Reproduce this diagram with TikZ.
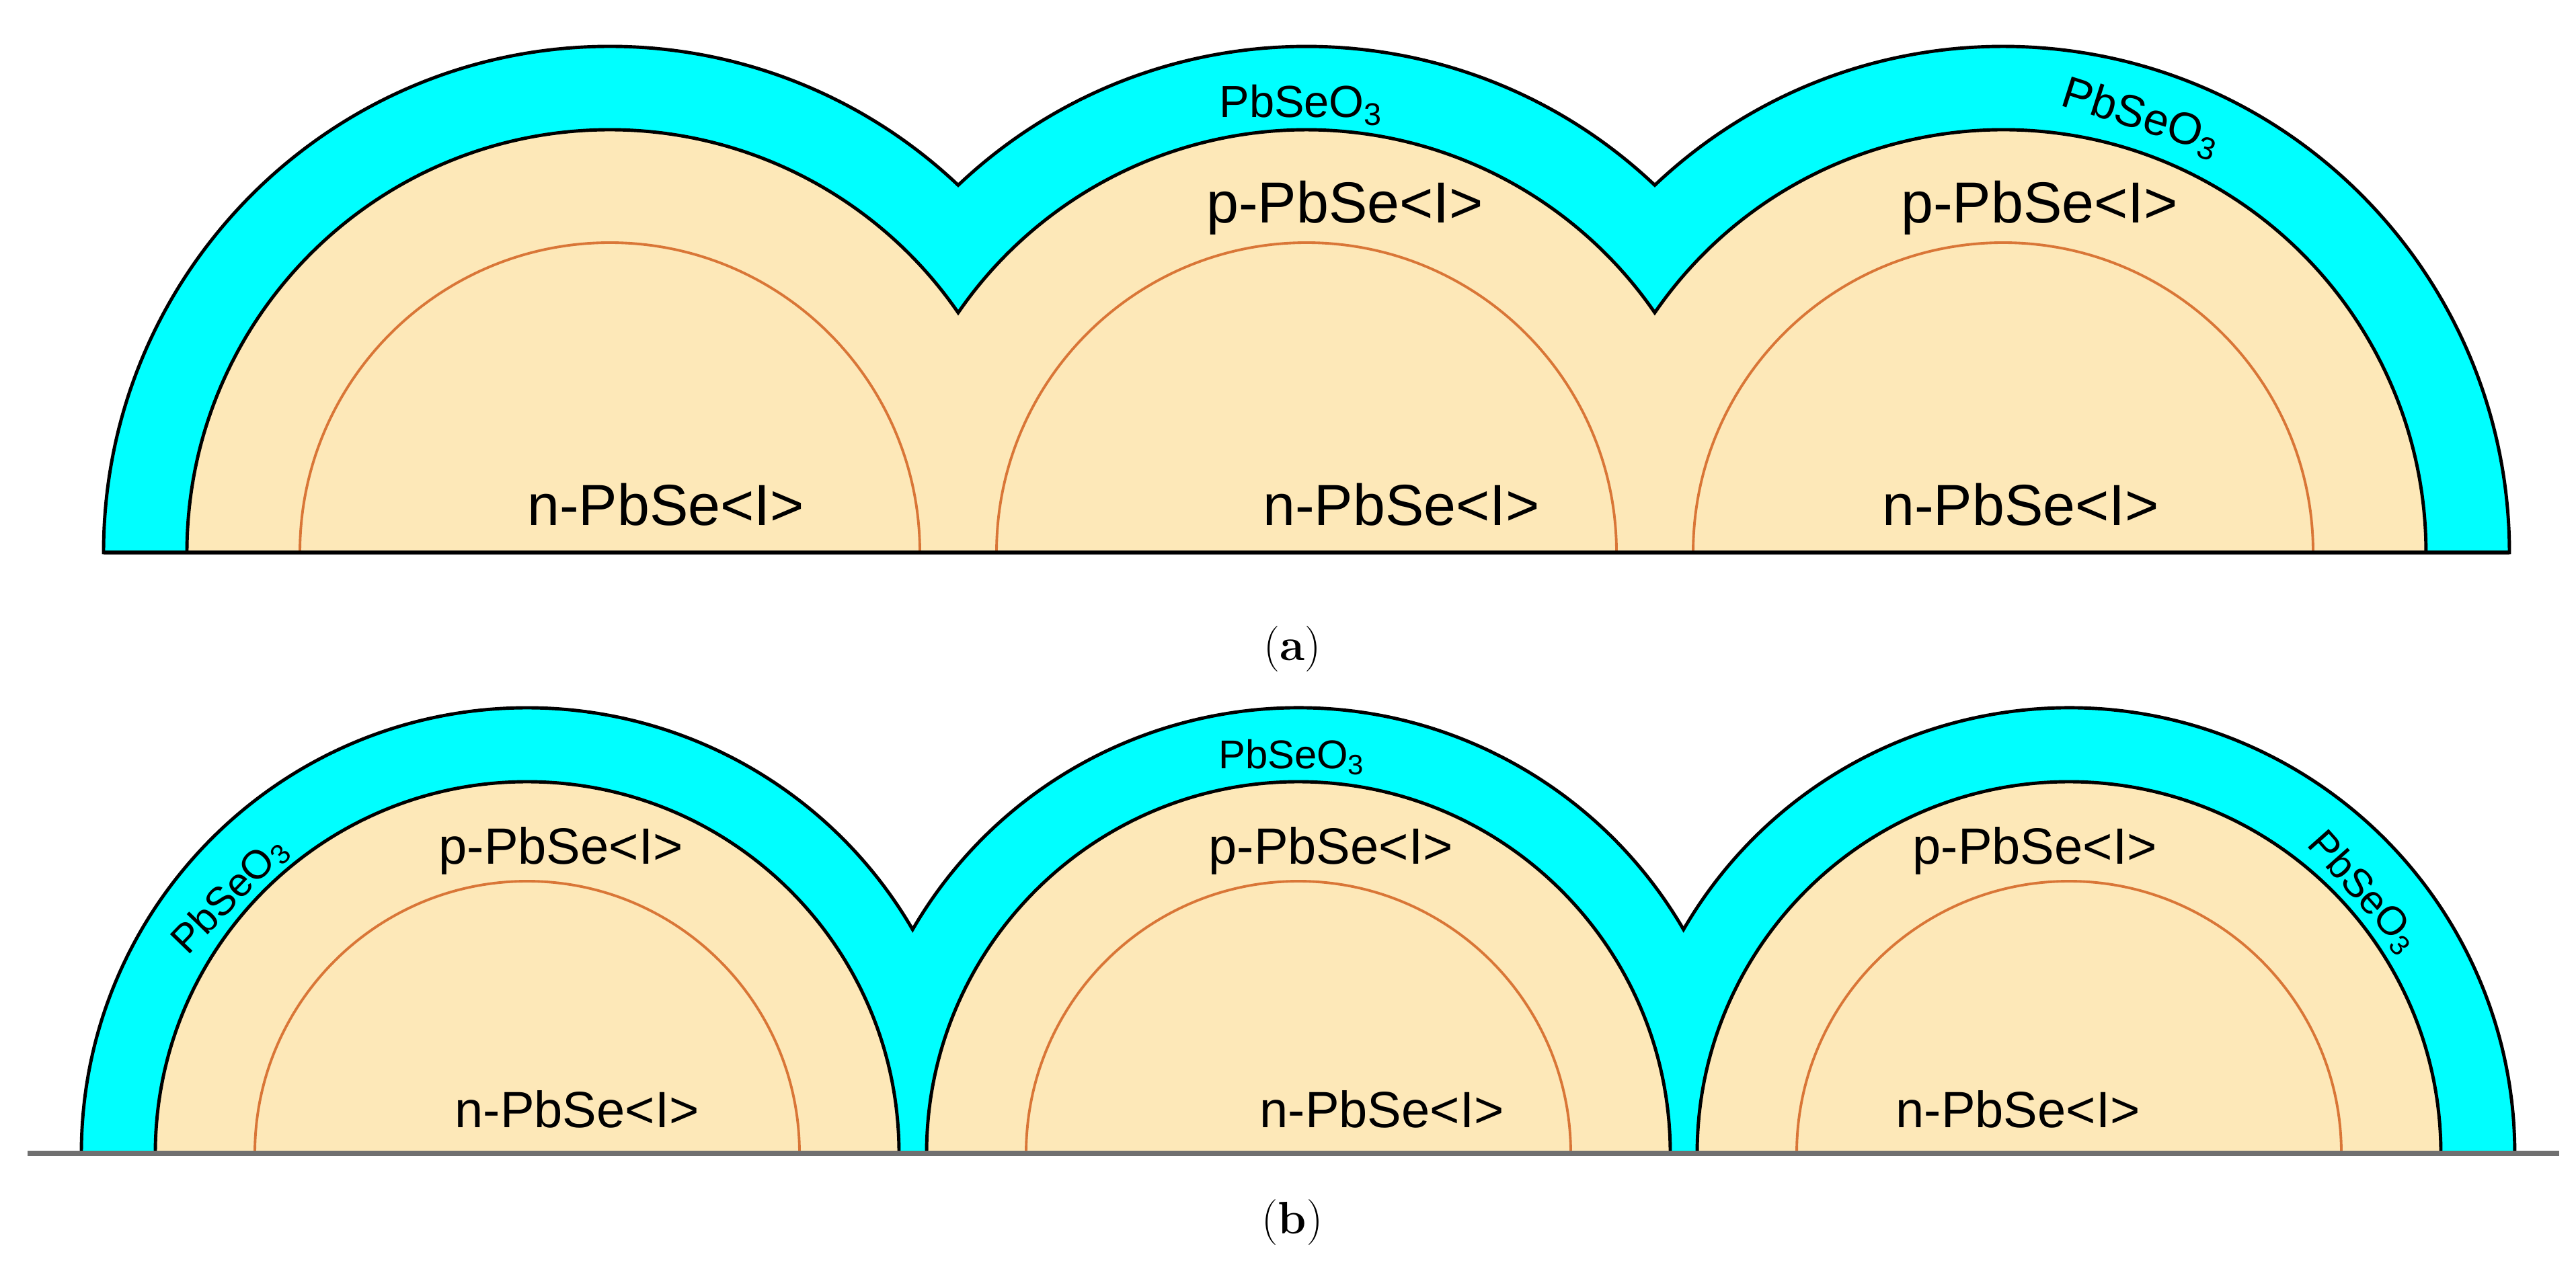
\documentclass[tikz,border=0pt]{standalone}
\usepackage{fontspec}
\newfontfamily\labelfont{Liberation Sans}
\usetikzlibrary{calc}
\definecolor{shellcyan}{RGB}{0,255,255}
\definecolor{grainbeige}{RGB}{253,232,184}
\definecolor{coreline}{RGB}{217,118,55}
\definecolor{basegray}{RGB}{112,112,112}

\begin{document}
\begin{tikzpicture}[
  shell/.style={fill=shellcyan, draw=black, line width=1.4pt},
  grain/.style={fill=grainbeige, draw=black, line width=1.4pt},
  core/.style={draw=coreline, line width=1.1pt},
  lbl/.style={inner sep=0pt, anchor=base, font=\labelfont\fontsize{24.5}{28}\selectfont},
  lblb/.style={inner sep=0pt, anchor=base, font=\labelfont\fontsize{21.6}{25}\selectfont},
  oxlbl/.style={inner sep=0pt, font=\labelfont\fontsize{19}{22}\selectfont},
  oxlblb/.style={inner sep=0pt, font=\labelfont\fontsize{17}{20}\selectfont},
  caplbl/.style={inner sep=0pt, anchor=base, font=\fontsize{19.3}{23}\selectfont}]
\useasboundingbox (0,0) rectangle (38.31,18.84);

% (a) three grains, overlapping shells and p-layers
\pgfmathsetmacro{\tAo}{acos(5.18/7.53)}
\pgfmathsetmacro{\sAo}{180-\tAo}
\pgfmathsetmacro{\tAp}{acos(5.18/6.29)}
\pgfmathsetmacro{\sAp}{180-\tAp}
\path[shell] (1.54,10.62) arc[start angle=180, end angle=\tAo, radius=7.53]
  arc[start angle=\sAo, end angle=\tAo, radius=7.53]
  arc[start angle=\sAo, end angle=0, radius=7.53] -- cycle;
\path[grain] (2.78,10.62) arc[start angle=180, end angle=\tAp, radius=6.29]
  arc[start angle=\sAp, end angle=\tAp, radius=6.29]
  arc[start angle=\sAp, end angle=0, radius=6.29] -- cycle;
\draw[core] (4.46,10.62) arc[start angle=180, end angle=0, radius=4.61];
\draw[core] (14.82,10.62) arc[start angle=180, end angle=0, radius=4.61];
\draw[core] (25.18,10.62) arc[start angle=180, end angle=0, radius=4.61];
\draw[black, line width=1.7pt] (1.54,10.62) -- (37.32,10.62);

\node[lbl] (nA1) at (9.90,11.02) {n-PbSe<I>};
\node[lbl] (nA2) at (20.84,11.02) {n-PbSe<I>};
\node[lbl] (nA3) at (30.05,11.02) {n-PbSe<I>};
\node[lbl] (pA2) at (20.00,15.52) {p-PbSe<I>};
\node[lbl] (pA3) at (30.33,15.52) {p-PbSe<I>};
\node[oxlbl, anchor=base] (oxA2) at (19.35,17.09) {PbSeO\textsubscript{3}};
\node[oxlbl, rotate=-17.6] (oxA3) at ($(29.79,10.62)+(72.4:6.78)$) {PbSeO\textsubscript{3}};
\node[caplbl] (capA) at (19.22,9.02) {(\textbf{a})};

% (b) three grains, shells touching, p-layers apart
\pgfmathsetmacro{\tBo}{acos(5.7325/6.63)}
\pgfmathsetmacro{\sBo}{180-\tBo}
\path[shell] (1.21,1.68) arc[start angle=180, end angle=\tBo, radius=6.63]
  arc[start angle=\sBo, end angle=\tBo, radius=6.63]
  arc[start angle=\sBo, end angle=0, radius=6.63] -- cycle;
\path[grain] (2.31,1.68) arc[start angle=180, end angle=0, radius=5.53] -- cycle;
\path[grain] (13.78,1.68) arc[start angle=180, end angle=0, radius=5.53] -- cycle;
\path[grain] (25.24,1.68) arc[start angle=180, end angle=0, radius=5.53] -- cycle;
\draw[core] (3.79,1.68) arc[start angle=180, end angle=0, radius=4.05];
\draw[core] (15.26,1.68) arc[start angle=180, end angle=0, radius=4.05];
\draw[core] (26.72,1.68) arc[start angle=180, end angle=0, radius=4.05];
\draw[basegray, line width=2.2pt] (0.41,1.68) -- (38.06,1.68);

\node[lblb] (nB1) at (8.58,2.07) {n-PbSe<I>};
\node[lblb] (nB2) at (20.55,2.07) {n-PbSe<I>};
\node[lblb] (nB3) at (30.01,2.07) {n-PbSe<I>};
\node[lblb] (pB1) at (8.34,5.99) {p-PbSe<I>};
\node[lblb] (pB2) at (19.79,5.99) {p-PbSe<I>};
\node[lblb] (pB3) at (30.26,5.99) {p-PbSe<I>};
\node[oxlblb, anchor=base] (oxB2) at (19.21,7.41) {PbSeO\textsubscript{3}};
\node[oxlblb, rotate=46] (oxB1) at ($(7.84,1.68)+(139:5.85)$) {PbSeO\textsubscript{3}};
\node[oxlblb, rotate=-48.4] (oxB3) at ($(30.77,1.68)+(41.6:5.85)$) {PbSeO\textsubscript{3}};
\node[caplbl] (capB) at (19.22,0.49) {(\textbf{b})};
\end{tikzpicture}
\end{document}
